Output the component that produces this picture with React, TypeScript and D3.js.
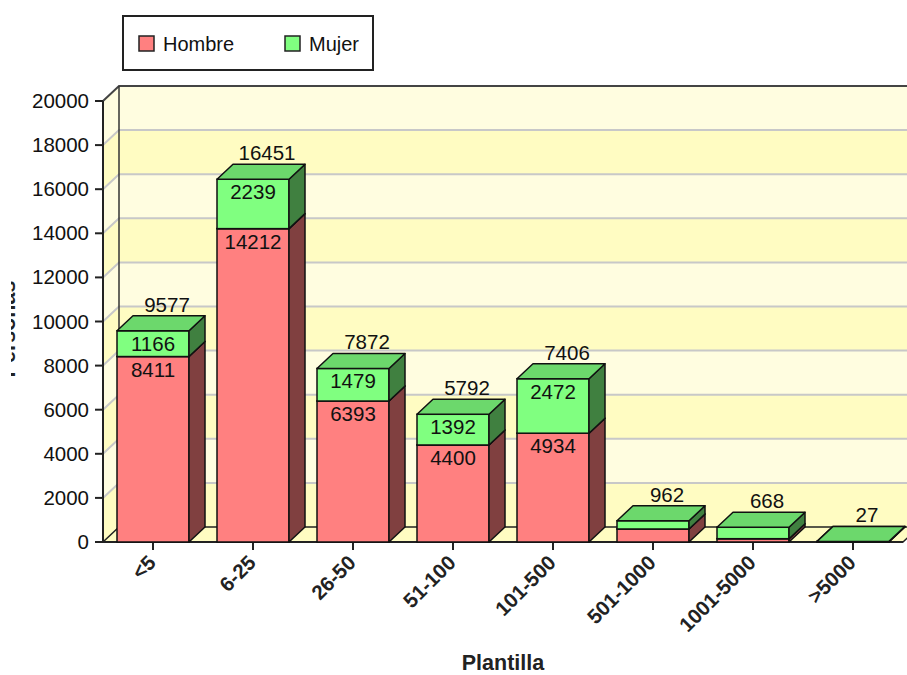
import React from "react";
import * as d3 from "d3";

const categories = ["<5", "6-25", "26-50", "51-100", "101-500", "501-1000", "1001-5000", ">5000"];
const hombre = [8411, 14212, 6393, 4400, 4934, 590, 150, 20];
const mujer = [1166, 2239, 1479, 1392, 2472, 372, 518, 7];
const totals = [9577, 16451, 7872, 5792, 7406, 962, 668, 27];
const yTicks = [0, 2000, 4000, 6000, 8000, 10000, 12000, 14000, 16000, 18000, 20000];
const seriesNames = ["Hombre", "Mujer"];

const W = 907;
const H = 675;
const DX = 16;
const DY = 15;
const FONT = "'Liberation Sans', Arial, sans-serif";

const colors = {
  front: ["#FF8080", "#80FF80"],
  side: ["#804040", "#408040"],
  top: ["#D96C6C", "#6CD86C"],
};

export default function App() {
  const x = d3
    .scaleBand<string>()
    .domain(categories)
    .range([103, 903])
    .paddingInner(0.28)
    .paddingOuter(0.14);
  const y = d3.scaleLinear().domain([0, 20000]).range([542, 101]);
  const bw = x.bandwidth();
  const x0 = 103;
  const x1 = 903;
  const yTop = y(20000);
  const yBase = y(0);

  const pts = (a: number[][]) => a.map((p) => p.join(",")).join(" ");

  const bands = yTicks.slice(0, -1).map((t, k) => ({
    lo: t,
    hi: yTicks[k + 1],
    fill: k % 2 === 1 ? "#FFFDE0" : "#FFFCC2",
  }));

  return (
    <svg
      width={W}
      height={H}
      style={{ position: "absolute", left: 0, top: 0, background: "#fff" }}
      fontFamily={FONT}
    >
      <defs>
        <clipPath id="ylab">
          <rect x={11} y={0} width={40} height={H} />
        </clipPath>
      </defs>
      <rect x={0} y={0} width={W} height={H} fill="#fff" />

      {/* legend */}
      <rect x={123} y={16} width={250} height={54} fill="#fff" stroke="#222" strokeWidth={2} />
      {seriesNames.map((s, i) => (
        <g key={s}>
          <rect
            x={139 + i * 146}
            y={36}
            width={15}
            height={15}
            fill={colors.front[i]}
            stroke="#222"
            strokeWidth={1.5}
          />
          <text x={163 + i * 146} y={51} fontSize={20} fill="#111">
            {s}
          </text>
        </g>
      ))}

      {/* back wall bands */}
      {bands.map((b, k) => (
        <g key={"band" + k}>
          <rect
            x={x0 + DX}
            y={y(b.hi) - DY}
            width={x1 - x0 + 10}
            height={y(b.lo) - y(b.hi)}
            fill={b.fill}
          />
          <polygon
            points={pts([
              [x0, y(b.lo)],
              [x0 + DX, y(b.lo) - DY],
              [x0 + DX, y(b.hi) - DY],
              [x0, y(b.hi)],
            ])}
            fill={b.fill}
          />
        </g>
      ))}

      {/* gridlines */}
      {yTicks.slice(1, -1).map((t) => (
        <polyline
          key={"g" + t}
          points={pts([
            [x0, y(t)],
            [x0 + DX, y(t) - DY],
            [W + 20, y(t) - DY],
          ])}
          fill="none"
          stroke="#C8C8C8"
          strokeWidth={2}
        />
      ))}
      <polyline
        points={pts([
          [x0, yTop],
          [x0 + DX, yTop - DY],
          [W + 20, yTop - DY],
        ])}
        fill="none"
        stroke="#444"
        strokeWidth={2}
      />
      <line x1={x0 + DX} x2={x0 + DX} y1={yTop - DY} y2={yBase - DY} stroke="#333" strokeWidth={1.5} />

      {/* floor */}
      <polygon
        points={pts([
          [x0, yBase],
          [x1, yBase],
          [x1 + DX, yBase - DY],
          [x0 + DX, yBase - DY],
        ])}
        fill="#FFFCC2"
        stroke="#222"
        strokeWidth={1.5}
      />

      {/* axes */}
      <line x1={x0} x2={x0} y1={yTop} y2={yBase} stroke="#222" strokeWidth={2} />
      <line x1={x0} x2={x1} y1={yBase} y2={yBase} stroke="#222" strokeWidth={2} />
      {yTicks.map((t) => (
        <g key={"yt" + t}>
          <line x1={95} x2={x0} y1={y(t)} y2={y(t)} stroke="#222" strokeWidth={2} />
          <text x={89} y={y(t) + 7} fontSize={20.5} textAnchor="end" fill="#111">
            {t}
          </text>
        </g>
      ))}
      {categories.map((c) => {
        const cx = (x(c) as number) + bw / 2;
        return (
          <g key={"xt" + c}>
            <line x1={cx} x2={cx} y1={yBase} y2={yBase + 8} stroke="#222" strokeWidth={2} />
            <text
              transform={`translate(${cx + 4},${yBase + 22}) rotate(-45)`}
              fontSize={20.5}
              fontWeight="bold"
              textAnchor="end"
              fill="#222"
            >
              {c}
            </text>
          </g>
        );
      })}

      {/* bars */}
      {categories.map((c, i) => {
        const bx = x(c) as number;
        const segs = [
          [0, hombre[i]],
          [hombre[i], hombre[i] + mujer[i]],
        ];
        return (
          <g key={"bar" + c}>
            {segs.map(([lo, hi], s) => {
              const yb = y(lo);
              const yt = y(hi);
              return (
                <g key={s}>
                  <rect
                    x={bx}
                    y={yt}
                    width={bw}
                    height={yb - yt}
                    fill={colors.front[s]}
                    stroke="#111"
                    strokeWidth={1.5}
                  />
                  <polygon
                    points={pts([
                      [bx + bw, yb],
                      [bx + bw + DX, yb - DY],
                      [bx + bw + DX, yt - DY],
                      [bx + bw, yt],
                    ])}
                    fill={colors.side[s]}
                    stroke="#111"
                    strokeWidth={1.5}
                    strokeLinejoin="round"
                  />
                  <polygon
                    points={pts([
                      [bx, yt],
                      [bx + DX, yt - DY],
                      [bx + bw + DX, yt - DY],
                      [bx + bw, yt],
                    ])}
                    fill={colors.top[s]}
                    stroke="#111"
                    strokeWidth={1.5}
                    strokeLinejoin="round"
                  />
                </g>
              );
            })}
          </g>
        );
      })}

      {/* value labels */}
      {categories.map((c, i) => {
        const bx = x(c) as number;
        const cx = bx + bw / 2;
        const segs = [
          [0, hombre[i]],
          [hombre[i], hombre[i] + mujer[i]],
        ];
        const vals = [hombre[i], mujer[i]];
        return (
          <g key={"lab" + c}>
            {segs.map(([lo, hi], s) =>
              y(lo) - y(hi) >= 18 ? (
                <text key={s} x={cx} y={y(hi) + 20} fontSize={20.5} textAnchor="middle" fill="#111">
                  {vals[s]}
                </text>
              ) : null
            )}
            <text x={cx + 14} y={y(totals[i]) - 19} fontSize={20.5} textAnchor="middle" fill="#111">
              {totals[i]}
            </text>
          </g>
        );
      })}

      {/* axis titles */}
      <text x={(x0 + x1) / 2} y={670} fontSize={21.5} fontWeight="bold" textAnchor="middle" fill="#222">
        Plantilla
      </text>
      <g clipPath="url(#ylab)">
        <text
          transform={`translate(15,329) rotate(-90)`}
          fontSize={21.5}
          fontWeight="bold"
          textAnchor="middle"
          fill="#222"
        >
          Personas
        </text>
      </g>
    </svg>
  );
}
